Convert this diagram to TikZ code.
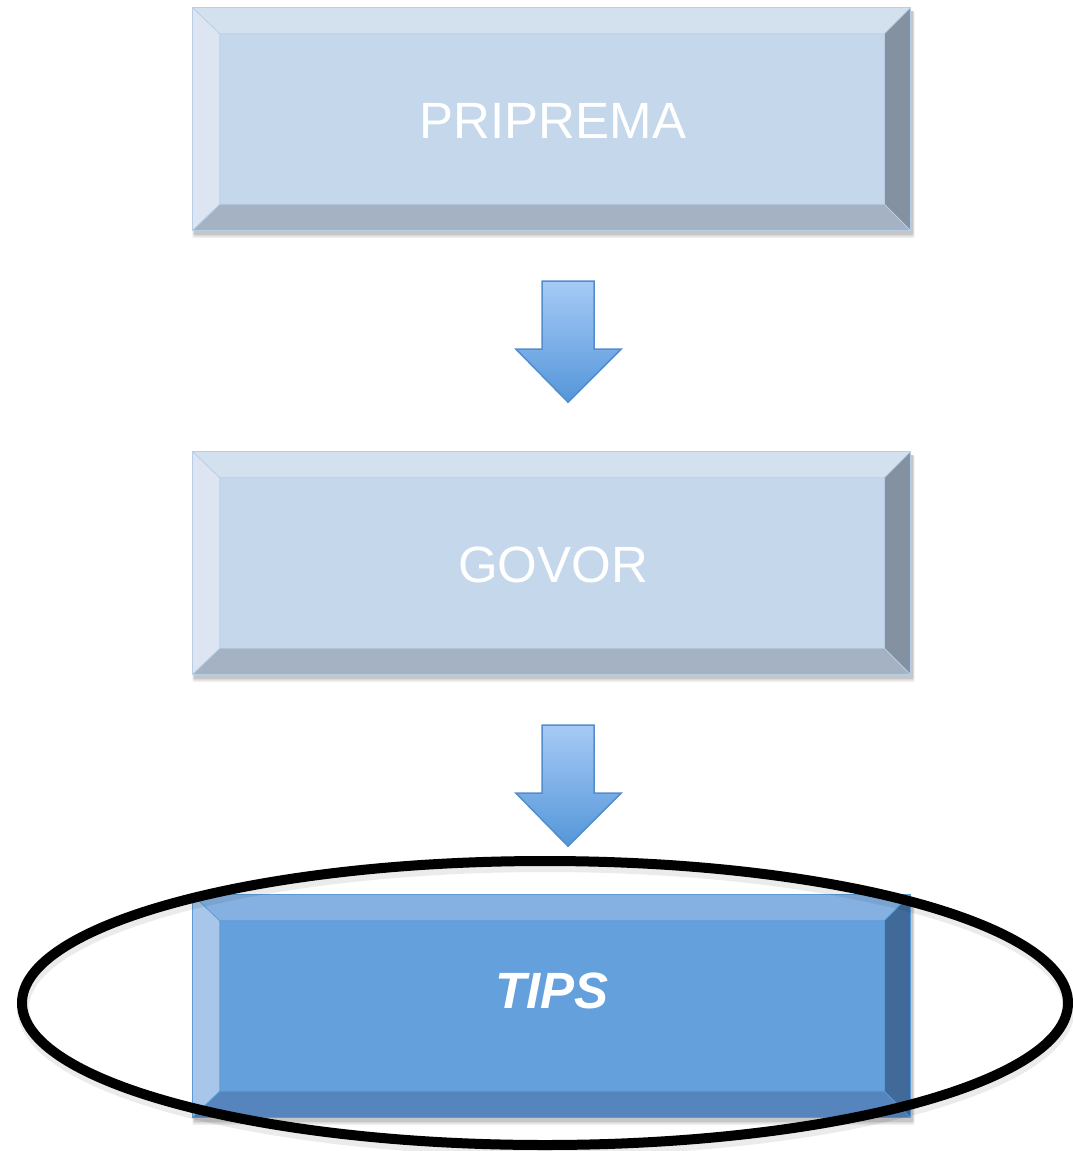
\documentclass[tikz,border=0pt]{standalone}
\usepackage{fontspec}
\setmainfont{Liberation Sans}
\usetikzlibrary{calc,shapes.geometric}
\definecolor{lMid}{RGB}{197,215,235}
\definecolor{lTop}{RGB}{211,224,238}
\definecolor{lLeft}{RGB}{221,229,242}
\definecolor{lRight}{RGB}{131,145,161}
\definecolor{lBot}{RGB}{164,178,196}
\definecolor{lLine}{RGB}{184,206,230}
\definecolor{dMid}{RGB}{100,160,219}
\definecolor{dTop}{RGB}{133,177,226}
\definecolor{dLeft}{RGB}{168,198,234}
\definecolor{dRight}{RGB}{65,106,154}
\definecolor{dBot}{RGB}{86,133,190}
\definecolor{dLine}{RGB}{91,155,213}
\definecolor{aTop}{RGB}{166,202,246}
\definecolor{aBot}{RGB}{84,150,217}
\definecolor{aLine}{RGB}{85,140,205}
\newcommand\bevelbox[6]{%
  \foreach \s/\o in {5/0.06,3.5/0.08,2/0.1}{
    \fill[black,opacity=\o,rounded corners=2pt] ($(#1.north west)+(2-\s/2,3)$) rectangle ($(#1.south east)+(2+\s/2,3+\s)$);}
  \fill[#2] (#1.north west) rectangle (#1.south east);
  \fill[#3] (#1.north west) -- (#1.north east) -- ($(#1.north east)+(-26,26)$) -- ($(#1.north west)+(27,26)$) -- cycle;
  \fill[#4] (#1.north west) -- ($(#1.north west)+(27,26)$) -- ($(#1.south west)+(27,-26)$) -- (#1.south west) -- cycle;
  \fill[#5] (#1.north east) -- ($(#1.north east)+(-26,26)$) -- ($(#1.south east)+(-26,-26)$) -- (#1.south east) -- cycle;
  \fill[#6] (#1.south west) -- ($(#1.south west)+(27,-26)$) -- ($(#1.south east)+(-26,-26)$) -- (#1.south east) -- cycle;
}
\newcommand\blockarrow[1]{%
  \path[arrowshape] ($(#1.south)+(-9.5,51)$) -- ($(#1.south)+(42.5,51)$) -- ($(#1.south)+(42.5,119)$)
    -- ($(#1.south)+(69.5,119)$) -- ($(#1.south)+(16.5,172)$) -- ($(#1.south)+(-35.5,119)$)
    -- ($(#1.south)+(-9.5,119)$) -- cycle;
}
\tikzset{
  box/.style={minimum width=717pt, minimum height=222pt, inner sep=0pt,
    font=\fontsize{51}{61}\selectfont, text=white},
  arrowshape/.style={draw=aLine, line width=1.5pt, line join=miter, top color=aTop, bottom color=aBot},
  bevelline/.style={line width=0.8pt},
}
\begin{document}
\begin{tikzpicture}[x=1pt,y=-1pt]
\useasboundingbox (0,0) rectangle (1072,1151);
\path (551.5,119) node[box] (b1) {};
\path (551.5,563) node[box] (b2) {};
\path (551.5,1006) node[box] (b3) {};
\bevelbox{b1}{lMid}{lTop}{lLeft}{lRight}{lBot}
\bevelbox{b2}{lMid}{lTop}{lLeft}{lRight}{lBot}
\bevelbox{b3}{dMid}{dTop}{dLeft}{dRight}{dBot}
\foreach \n/\c in {b1/lLine,b2/lLine,b3/dLine}{
  \draw[\c,bevelline] (\n.north west) rectangle (\n.south east);
  \draw[\c,bevelline] (\n.north west) -- ($(\n.north west)+(27,26)$) -- ($(\n.north east)+(-26,26)$) -- (\n.north east);
  \draw[\c,bevelline] ($(\n.north west)+(27,26)$) -- ($(\n.south west)+(27,-26)$) -- (\n.south west);
  \draw[\c,bevelline] ($(\n.south west)+(27,-26)$) -- ($(\n.south east)+(-26,-26)$) -- (\n.south east);
  \draw[\c,bevelline] ($(\n.north east)+(-26,26)$) -- ($(\n.south east)+(-26,-26)$);
}
\node[box] at (553,121) (t1) {PRIPREMA};
\node[box] at (553,565) (t2) {GOVOR};
\node[box,font=\fontsize{51}{61}\selectfont\bfseries\itshape] at (552,991) (t3) {TIPS};
\blockarrow{b1}
\blockarrow{b2}
\draw[black,opacity=0.08,line width=12pt] (546,1008) ellipse [x radius=523, y radius=142];
\node[draw=black, line width=10pt, ellipse, minimum width=1046pt, minimum height=284pt, inner sep=0pt] (hl) at (545,1003) {};
\end{tikzpicture}
\end{document}
